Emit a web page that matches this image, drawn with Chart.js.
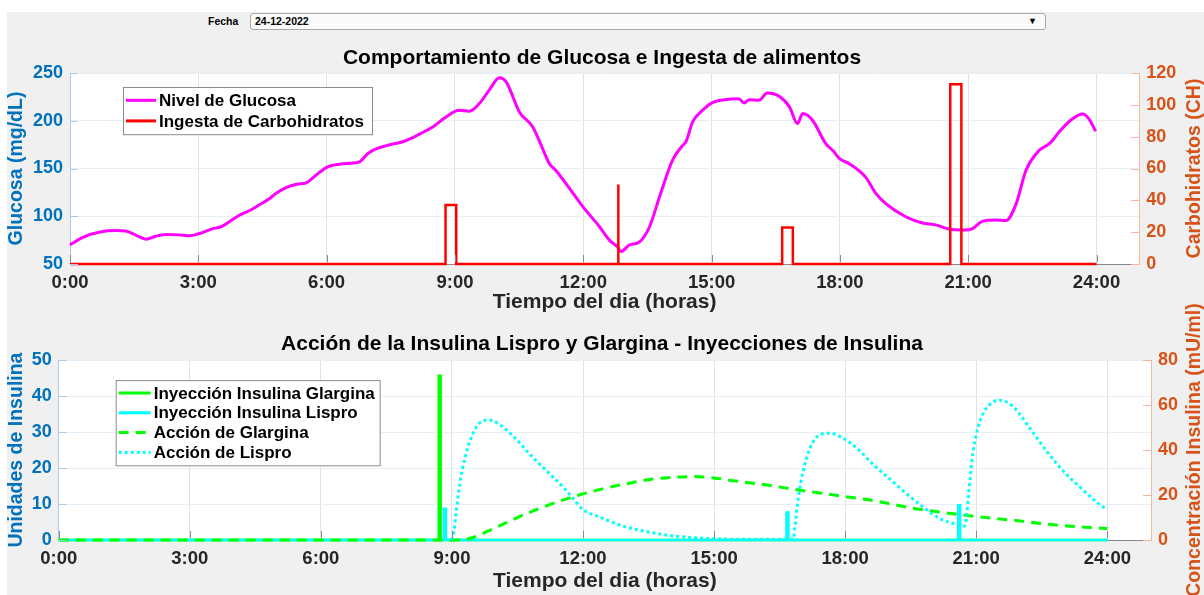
<!DOCTYPE html>
<html>
<head>
<meta charset="utf-8">
<script src="https://cdn.jsdelivr.net/npm/chart.js@4.4.0/dist/chart.umd.min.js"></script>
<style>
  body { margin: 0; width: 1204px; height: 595px; overflow: hidden; position: relative; background: #fff;
         font-family: "Liberation Sans", Arial, sans-serif; }
  #panel { position: absolute; left: 7px; top: 12px; width: 1197px; height: 583px; background: #f0f0f0; }
  #fechaLbl { position: absolute; left: 208px; top: 14px; font-size: 10.5px; font-weight: bold; line-height: 15px; color: #000; }
  #fechaBox { position: absolute; left: 250px; top: 13px; width: 794px; height: 15px; border: 1px solid #a8a8a8;
              border-radius: 3px; background: #fafafa; }
  #fechaBox span { position: absolute; left: 4px; top: 0; font-size: 10.5px; font-weight: bold; line-height: 15px; }
  #fechaBox i { position: absolute; right: 8px; top: 0; font-style: normal; font-size: 9px; line-height: 15px; }
  canvas { position: absolute; left: 0; }
  #glucose { top: 0; }
  #insulin { top: 290px; }
</style>
</head>
<body>
<div id="panel"></div>
<div id="fechaLbl">Fecha</div>
<div id="fechaBox"><span>24-12-2022</span><i>&#9660;</i></div>
<canvas id="glucose" width="1204" height="320"></canvas>
<canvas id="insulin" width="1204" height="305"></canvas>
<script>
// tick labels
const hourTicks = [0, 3, 6, 9, 12, 15, 18, 21, 24];
const glucoseTicks = [50, 100, 150, 200, 250];
const carbTicks = [0, 20, 40, 60, 80, 100, 120];
const unitTicks = [0, 10, 20, 30, 40, 50];
const concTicks = [0, 20, 40, 60, 80];

// glucose level (mg/dL) by hour of day
const glucoseTime = [0, 0.3, 0.7, 1.08, 1.3, 1.55, 1.78, 2.0, 2.25, 2.55, 2.8, 3.03, 3.34, 3.53, 3.75, 3.96,
  4.2, 4.43, 4.65, 4.82, 5.05, 5.3, 5.52, 5.75, 5.99, 6.3, 6.55, 6.77, 6.95, 7.08, 7.4, 7.78, 8.0, 8.17,
  8.48, 8.79, 9.1, 9.34, 9.57, 9.8, 10.04, 10.2, 10.51, 10.82, 11.0, 11.21, 11.36, 11.6, 11.99, 12.38,
  12.61, 12.8, 12.88, 13.08, 13.31, 13.55, 13.78, 14.09, 14.32, 14.4, 14.56, 14.79, 15.02, 15.3, 15.64,
  15.76, 15.88, 16.11, 16.3, 16.58, 16.82, 17.01, 17.13, 17.36, 17.67, 17.85, 18.0, 18.22, 18.6, 18.84,
  19.08, 19.54, 19.93, 20.24, 20.55, 20.94, 21.1, 21.33, 21.65, 21.88, 22.12, 22.35, 22.66, 22.9, 23.16,
  23.44, 23.67, 23.82, 23.98];
const glucoseLevel = [70, 78, 83.5, 85, 84.5, 80, 76, 79, 81, 80.5, 79.5, 82, 87, 89, 95, 101,
  106, 112, 118, 124, 130, 133.5, 135, 143, 151, 154.5, 155.5, 157, 165, 169, 174, 178, 182, 186,
  193.5, 204, 211, 210, 218, 232, 245, 240.5, 209, 193.5, 176, 155, 148, 134, 110, 89,
  75, 68, 63, 70, 73, 89, 120, 159, 174, 178, 199, 211, 219, 222, 223,
  218.7, 222, 221.5, 229, 225.6, 214.5, 197, 207.5, 200.5, 176, 168, 160, 155, 141, 124,
  113, 99.5, 93, 91, 86.6, 85.5, 87, 94.6, 96, 95.5, 113, 148, 169, 176, 190,
  202, 207, 202, 189];

// carbohydrate intake (CH)
const mealStart = [8.78, 12.82, 16.65, 20.58];
const mealEnd = [9.03, 12.82, 16.9, 20.84];
const mealCarbs = [37, 50, 23, 113];

// insulin injections (units)
const glarginaDoseTime = [8.72];
const glarginaDose = [46];
const lisproDoseTime = [8.84, 16.68, 20.61];
const lisproDose = [9, 8, 10];

// insulin action (mU/ml)
const glarginaActTime = [0, 9.03, 9.41, 10.0, 10.5, 11.0, 11.5, 12.0, 12.5, 13.0, 13.5, 14.0, 14.5, 15.0,
  15.5, 16.0, 16.5, 17.0, 17.5, 18.0, 18.5, 19.0, 19.5, 20.0, 20.5, 21.0, 21.5, 22.0, 22.5, 23.0, 23.5, 24.0];
const glarginaAct = [0, 0, 0.7, 5.5, 10, 14, 17.5, 20.5, 23, 25, 26.8, 27.8, 28.2, 27.6,
  26.2, 25, 23.6, 22, 20.7, 19.3, 18, 16.2, 14.3, 12.9, 11.6, 10.4, 9.4, 8.5, 7.3, 6.4, 5.7, 5.1];
const lisproActTime = [9.0, 9.03, 9.1, 9.18, 9.3, 9.41, 9.57, 9.8, 10.02, 10.41, 10.79, 11.17, 11.55, 11.78,
  12.0, 12.39, 12.85, 13.46, 14.07, 14.83, 16.0, 16.81, 16.85, 16.93, 17.04, 17.2, 17.42, 17.65, 17.88,
  18.26, 18.64, 19.03, 19.41, 19.79, 20.17, 20.55, 20.74, 20.82, 20.9, 21.0, 21.16, 21.39, 21.54, 21.85,
  22.23, 22.61, 22.99, 23.38, 23.76, 23.99];
const lisproAct = [0, 1.5, 13, 25, 36.6, 43.9, 50.5, 53.4, 52.2, 46, 38, 30.7, 23.4, 18.3,
  13.5, 10.2, 6.6, 3.7, 1.8, 0.7, 0.3, 0.3, 5.8, 19, 30.7, 41, 46.8, 47.5, 46,
  41, 33.6, 27, 20.5, 14.6, 9.5, 7, 6.2, 19, 35, 46.8, 56.3, 61.4, 62.2, 59.2,
  49.7, 39.5, 30.7, 23.4, 16.8, 13.5];

const FONT = '"Liberation Sans", Arial, sans-serif';
const BLUE = '#0072BD';
const ORANGE = '#D95319';

function toPoints(xs, ys) {
    return xs.map((x, i) => ({x: x, y: ys[i]}));
}
function pulses(starts, ends, values) {
    const pts = [{x: 0, y: 0}];
    for (let i = 0; i < starts.length; i++) {
        pts.push({x: starts[i], y: 0}, {x: starts[i], y: values[i]}, {x: ends[i], y: values[i]}, {x: ends[i], y: 0});
    }
    pts.push({x: 24, y: 0});
    return pts;
}
function fixTicks(list) {
    return (scale) => { scale.ticks = list.map(v => ({value: v})); };
}
// thinner stroke where an injection line lies on the zero baseline
const baseWidth = (ctx) => (ctx.p0.parsed.y === 0 && ctx.p1.parsed.y === 0 ? 2.5 : undefined);

// white plot area, inward tick marks, right axis title
const axisDecor = {
    id: 'axisDecor',
    beforeDraw(chart) {
        const {ctx, chartArea: a} = chart;
        ctx.save();
        ctx.fillStyle = '#fff';
        ctx.fillRect(a.left, a.top, a.right - a.left, a.bottom - a.top);
        ctx.restore();
    },
    afterDraw(chart, args, opts) {
        const {ctx, chartArea: a, scales} = chart;
        ctx.save();
        ctx.lineWidth = 1;
        ctx.strokeStyle = '#8a8a8a';
        scales.x.ticks.forEach(t => {
            const px = Math.round(scales.x.getPixelForValue(t.value)) + 0.5;
            ctx.beginPath(); ctx.moveTo(px, a.bottom - 2); ctx.lineTo(px, a.bottom - 9); ctx.stroke();
        });
        ctx.strokeStyle = '#a9cbe6';
        scales.y.ticks.forEach(t => {
            const py = Math.round(scales.y.getPixelForValue(t.value)) + 0.5;
            ctx.beginPath(); ctx.moveTo(a.left, py); ctx.lineTo(a.left + 8, py); ctx.stroke();
        });
        ctx.strokeStyle = '#f2b8a0';
        scales.y2.ticks.forEach(t => {
            const py = Math.round(scales.y2.getPixelForValue(t.value)) + 0.5;
            ctx.beginPath(); ctx.moveTo(a.right, py); ctx.lineTo(a.right - 8, py); ctx.stroke();
        });
        ctx.translate(opts.titleX, (a.top + a.bottom) / 2);
        ctx.rotate(-Math.PI / 2);
        ctx.font = 'bold 19.5px ' + FONT;
        ctx.fillStyle = ORANGE;
        ctx.textAlign = 'center';
        ctx.textBaseline = 'middle';
        ctx.fillText(opts.title, 0, 0);
        ctx.restore();
    }
};

// boxed legend inside the plot
const boxLegend = {
    id: 'boxLegend',
    afterDraw(chart, args, opts) {
        const {ctx, chartArea: a} = chart;
        const sets = opts.items.map(i => chart.data.datasets[i]);
        const x = a.left + opts.dx, y = a.top + opts.dy;
        const h = sets.length * opts.row + 6;
        ctx.save();
        ctx.fillStyle = '#fff';
        ctx.strokeStyle = '#8c8c8c';
        ctx.lineWidth = 1;
        ctx.fillRect(x, y, opts.width, h);
        ctx.strokeRect(x + 0.5, y + 0.5, opts.width, h);
        ctx.font = 'bold 17px ' + FONT;
        ctx.textBaseline = 'middle';
        sets.forEach((ds, i) => {
            const cy = y + 3 + opts.row * (i + 0.5);
            ctx.strokeStyle = ds.borderColor;
            ctx.lineWidth = 3;
            ctx.setLineDash(ds.borderDash || []);
            ctx.beginPath(); ctx.moveTo(x + 3, cy); ctx.lineTo(x + 3 + opts.sample, cy); ctx.stroke();
            ctx.setLineDash([]);
            ctx.fillStyle = '#000';
            ctx.fillText(ds.label, x + opts.sample + 6, cy + 1);
        });
        ctx.restore();
    }
};

function xScale(height, tickPad, titlePad) {
    return {
        type: 'linear', min: 0, max: 25,
        afterBuildTicks: fixTicks(hourTicks),
        afterFit: (s) => { s.height = height; },
        grid: {color: '#e2e2e2', drawTicks: false},
        border: {color: '#8a8a8a'},
        ticks: {padding: tickPad, maxRotation: 0, autoSkip: false, color: '#262626',
                font: {family: FONT, size: 18.5, weight: 'bold'}, callback: (v) => v + ':00'},
        title: {display: true, text: 'Tiempo del dia (horas)', color: '#262626', padding: {top: 0, bottom: titlePad},
                font: {family: FONT, size: 21, weight: 'bold'}}
    };
}
function leftScale(min, max, list, width, text) {
    return {
        position: 'left', min: min, max: max,
        afterBuildTicks: fixTicks(list),
        afterFit: (s) => { s.width = width; },
        grid: {color: '#e6eef6', drawTicks: false},
        border: {color: '#a9cbe6'},
        ticks: {padding: 7, autoSkip: false, color: BLUE, font: {family: FONT, size: 18, weight: 'bold'}},
        title: {display: true, text: text, color: BLUE, padding: {top: 5, bottom: 0},
                font: {family: FONT, size: 19.5, weight: 'bold'}}
    };
}
function rightScale(min, max, list, width) {
    return {
        position: 'right', min: min, max: max,
        afterBuildTicks: fixTicks(list),
        afterFit: (s) => { s.width = width; },
        grid: {drawOnChartArea: false, drawTicks: false},
        border: {color: '#f2b8a0'},
        ticks: {padding: 7, autoSkip: false, color: ORANGE, font: {family: FONT, size: 18, weight: 'bold'}}
    };
}
function titleOpts(text, top, bottom) {
    return {display: true, text: text, color: '#000', padding: {top: top, bottom: bottom},
            font: {family: FONT, size: 21, weight: 'bold'}};
}

new Chart(document.getElementById('glucose'), {
    type: 'line',
    data: {
        datasets: [{
            label: 'Nivel de Glucosa',
            data: toPoints(glucoseTime, glucoseLevel),
            borderColor: '#ff00ff',
            borderWidth: 3,
            cubicInterpolationMode: 'monotone',
            pointRadius: 0,
            clip: 5,
            yAxisID: 'y',
            order: 1
        }, {
            label: 'Ingesta de Carbohidratos',
            data: pulses(mealStart, mealEnd, mealCarbs),
            borderColor: '#ff0000',
            borderWidth: 2.5,
            tension: 0,
            pointRadius: 0,
            clip: 5,
            yAxisID: 'y2',
            order: 0
        }]
    },
    options: {
        responsive: false,
        animation: false,
        layout: {padding: 0},
        scales: {
            x: xScale(56, 8, 5),
            y: leftScale(50, 250, glucoseTicks, 70, 'Glucosa (mg/dL)'),
            y2: rightScale(0, 120, carbTicks, 64.7)
        },
        plugins: {
            legend: {display: false},
            tooltip: {enabled: false},
            title: titleOpts('Comportamiento de Glucosa e Ingesta de alimentos', 45.4, 2.4),
            axisDecor: {title: 'Carbohidratos (CH)', titleX: 1195},
            boxLegend: {items: [0, 1], dx: 53, dy: 14, width: 249, row: 20.6, sample: 30}
        }
    },
    plugins: [axisDecor, boxLegend]
});

new Chart(document.getElementById('insulin'), {
    type: 'line',
    data: {
        datasets: [{
            label: 'Inyección Insulina Glargina',
            data: pulses(glarginaDoseTime, glarginaDoseTime, glarginaDose),
            borderColor: '#00ff00',
            borderWidth: 4.5,
            segment: {borderWidth: baseWidth},
            tension: 0,
            pointRadius: 0,
            clip: 5,
            yAxisID: 'y',
            order: 3
        }, {
            label: 'Inyección Insulina Lispro',
            data: pulses(lisproDoseTime, lisproDoseTime, lisproDose),
            borderColor: '#00ffff',
            borderWidth: 4.5,
            segment: {borderWidth: baseWidth},
            tension: 0,
            pointRadius: 0,
            clip: 5,
            yAxisID: 'y',
            order: 2
        }, {
            label: 'Acción de Glargina',
            data: toPoints(glarginaActTime, glarginaAct),
            borderColor: '#00ff00',
            borderWidth: 3,
            borderDash: [10, 7],
            cubicInterpolationMode: 'monotone',
            pointRadius: 0,
            clip: 5,
            yAxisID: 'y2',
            order: 1
        }, {
            label: 'Acción de Lispro',
            data: toPoints(lisproActTime, lisproAct),
            borderColor: '#00ffff',
            borderWidth: 3,
            borderDash: [3, 3],
            cubicInterpolationMode: 'monotone',
            pointRadius: 0,
            clip: 5,
            yAxisID: 'y2',
            order: 0
        }]
    },
    options: {
        responsive: false,
        animation: false,
        layout: {padding: 0},
        scales: {
            x: xScale(55, 8, 1),
            y: leftScale(0, 50, unitTicks, 58.7, 'Unidades de Insulina'),
            y2: rightScale(0, 80, concTicks, 53)
        },
        plugins: {
            legend: {display: false},
            tooltip: {enabled: false},
            title: titleOpts('Acción de la Insulina Lispro y Glargina - Inyecciones de Insulina', 41.6, 3.3),
            axisDecor: {title: 'Concentración Insulina (mU/ml)', titleX: 1195},
            boxLegend: {items: [0, 1, 2, 3], dx: 57, dy: 20, width: 264, row: 19.8, sample: 32}
        }
    },
    plugins: [axisDecor, boxLegend]
});
</script>
</body>
</html>
